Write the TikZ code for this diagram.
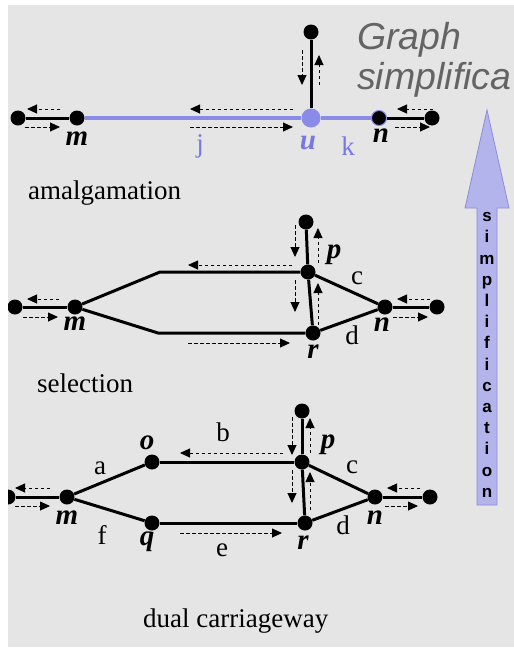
\documentclass[tikz,border=0pt]{standalone}
\usepackage{fontspec}
\setmainfont{Liberation Serif}
\setsansfont{Liberation Sans}
\usepackage{tikz}
\usetikzlibrary{calc, arrows.meta}

\definecolor{bgray}{RGB}{229,229,229}
\definecolor{ublue}{RGB}{138,138,232}
\definecolor{tblue}{RGB}{120,120,222}
\definecolor{afill}{RGB}{180,180,236}
\definecolor{aline}{RGB}{140,140,220}
\definecolor{tgray}{RGB}{100,100,100}

\tikzset{
  dot/.style={circle, fill=black, inner sep=0pt, minimum size=15pt},
  udot/.style={circle, fill=ublue, inner sep=0pt, minimum size=19pt},
  edge/.style={line width=3pt, black},
  uedge/.style={line width=4pt, ublue},
  flow/.style={line width=0.9pt, dash pattern=on 3.5pt off 2.5pt, -{Triangle[length=10pt,width=9pt]}},
  lbl/.style={inner sep=0pt, font=\fontsize{27}{27}\selectfont},
  vlbl/.style={inner sep=0pt, font=\fontsize{29}{29}\selectfont\bfseries\itshape},
  caption/.style={inner sep=0pt, anchor=west, font=\fontsize{27}{27}\selectfont}
}

\begin{document}
\begin{tikzpicture}[x=1pt, y=-1pt]
  \useasboundingbox (0,0) rectangle (514,654);
  \fill[bgray] (8,5) rectangle (514,647);
  \clip (8,5) rectangle (514,647);

  % Title
  \node[inner sep=0pt, anchor=west, text=tgray, font=\fontsize{37.5}{37.5}\selectfont\sffamily\itshape] (title1) at (357,40) {Graph};
  \node[inner sep=0pt, anchor=west, text=tgray, font=\fontsize{37.5}{37.5}\selectfont\sffamily\itshape] (title2) at (357,80) {simplifica};

  % Simplification arrow
  \draw[fill=afill, draw=aline, line width=0.8pt] (477,505) -- (477,208) -- (465,208) -- (487,110)
    -- (509,208) -- (497,208) -- (497,505) -- cycle;
  \node[inner sep=0pt, align=center, font=\fontsize{17}{21.2}\selectfont\sffamily\bfseries] (simp) at (487,355)
    {s\\i\\m\\p\\l\\i\\f\\i\\c\\a\\t\\i\\o\\n};

  % Amalgamation
  \node[dot] (a1) at (18,118) {};
  \node[dot] (m1) at (77,118) {};
  \node[udot] (u1) at (311,118) {};
  \node[dot, draw=ublue, line width=1pt] (n1) at (379,118) {};
  \node[dot] (b1) at (432,118) {};
  \node[dot] (t1) at (311,32) {};
  \draw[edge] (a1) -- (m1);
  \draw[uedge] (m1) -- (u1);
  \draw[uedge] (u1) -- (n1);
  \draw[edge] (n1) -- (b1);
  \draw[edge] (t1) -- (u1);
  \draw[flow] ($(m1)+(-17,-9)$) -- ($(a1)+(9,-9)$);
  \draw[flow] ($(a1)+(7,9)$) -- ($(m1)+(-17,9)$);
  \draw[flow] ($(u1)+(-18,-9)$) -- ($(u1)+(-121,-9)$);
  \draw[flow] ($(u1)+(-121,9)$) -- ($(u1)+(-18,9)$);
  \draw[flow] ($(b1)+(1,-9)$) -- ($(n1)+(18,-9)$);
  \draw[flow] ($(n1)+(16,9)$) -- ($(b1)+(-2,9)$);
  \draw[flow] ($(t1)+(-9,18)$) -- ($(t1)+(-9,53)$);
  \draw[flow] ($(u1)+(8,-33)$) -- ($(t1)+(8,23)$);
  \node[vlbl] (lm1) at (77,139) {m};
  \node[lbl, text=tblue] (lj) at (200,146) {j};
  \node[vlbl, text=tblue] (lu) at (308,143) {u};
  \node[lbl, text=tblue] (lk) at (348,146) {k};
  \node[vlbl] (ln1) at (381,136) {n};
  \node[caption] (cap1) at (28,193) {amalgamation};

  % Selection
  \node[dot] (a2) at (15,307) {};
  \node[dot] (m2) at (75,307) {};
  \coordinate (tl2) at (160,272);
  \coordinate (bl2) at (158,333);
  \node[dot] (p2) at (308,272) {};
  \node[dot] (r2) at (313,333) {};
  \node[dot] (n2) at (385,307) {};
  \node[dot] (b2) at (437,307) {};
  \node[dot] (t2) at (306,222) {};
  \draw[edge] (a2) -- (m2);
  \draw[edge] (m2) -- (tl2) -- (p2);
  \draw[edge] (m2) -- (bl2) -- (r2);
  \draw[edge] (t2) -- (p2);
  \draw[edge] (p2) -- (r2);
  \draw[edge] (p2) -- (n2);
  \draw[edge] (r2) -- (n2);
  \draw[edge] (n2) -- (b2);
  \draw[flow] ($(m2)+(-16,-8)$) -- ($(a2)+(12,-8)$);
  \draw[flow] ($(a2)+(8,10)$) -- ($(m2)+(-17,10)$);
  \draw[flow] ($(p2)+(-16,-7)$) -- ($(p2)+(-120,-7)$);
  \draw[flow] ($(r2)+(-125,10)$) -- ($(r2)+(-23,10)$);
  \draw[flow] ($(t2)+(-11,3)$) -- ($(t2)+(-11,35)$);
  \draw[flow] ($(p2)+(10,-9)$) -- ($(t2)+(12,6)$);
  \draw[flow] ($(p2)+(-13,8)$) -- ($(r2)+(-18,-21)$);
  \draw[flow] ($(r2)+(5,-8)$) -- ($(p2)+(10,11)$);
  \draw[flow] ($(b2)+(-7,-8)$) -- ($(n2)+(12,-8)$);
  \draw[flow] ($(n2)+(8,10)$) -- ($(b2)+(-9,10)$);
  \node[vlbl] (lp2) at (334,255) {p};
  \node[lbl] (lc2) at (357,278) {c};
  \node[lbl] (ld2) at (352,335) {d};
  \node[vlbl] (ln2) at (382,325) {n};
  \node[vlbl] (lm2) at (75,324) {m};
  \node[vlbl] (lr2) at (313,352) {r};
  \node[caption] (cap2) at (37,383) {selection};

  % Dual carriageway
  \node[dot] (a3) at (8,497) {};
  \node[dot] (m3) at (67,497) {};
  \node[dot] (o3) at (152,462) {};
  \node[dot] (q3) at (152,523) {};
  \node[dot] (p3) at (302,462) {};
  \node[dot] (r3) at (305,523) {};
  \node[dot] (n3) at (375,497) {};
  \node[dot] (b3) at (430,497) {};
  \node[dot] (t3) at (302,411) {};
  \draw[edge] (a3) -- (m3);
  \draw[edge] (m3) -- (o3);
  \draw[edge] (o3) -- (p3);
  \draw[edge] (m3) -- (q3);
  \draw[edge] (q3) -- (r3);
  \draw[edge] (t3) -- (p3);
  \draw[edge] (p3) -- (r3);
  \draw[edge] (p3) -- (n3);
  \draw[edge] (r3) -- (n3);
  \draw[edge] (n3) -- (b3);
  \draw[flow] ($(m3)+(-17,-9)$) -- ($(a3)+(7,-9)$);
  \draw[flow] ($(a3)+(7,9)$) -- ($(m3)+(-17,9)$);
  \draw[flow] ($(p3)+(-19,-9)$) -- ($(o3)+(28,-9)$);
  \draw[flow] ($(q3)+(28,10)$) -- ($(r3)+(-23,10)$);
  \draw[flow] ($(t3)+(-10,6)$) -- ($(p3)+(-10,-7)$);
  \draw[flow] ($(p3)+(8,-9)$) -- ($(t3)+(8,7)$);
  \draw[flow] ($(p3)+(-10,8)$) -- ($(r3)+(-13,-20)$);
  \draw[flow] ($(r3)+(5,-13)$) -- ($(p3)+(8,10)$);
  \draw[flow] ($(b3)+(-10,-9)$) -- ($(n3)+(12,-9)$);
  \draw[flow] ($(n3)+(10,9)$) -- ($(b3)+(-12,9)$);
  \node[lbl] (la) at (100,468) {a};
  \node[vlbl] (lo3) at (147,443) {o};
  \node[lbl] (lb) at (223,432) {b};
  \node[vlbl] (lp3) at (328,445) {p};
  \node[lbl] (lc3) at (352,467) {c};
  \node[vlbl] (lm3) at (67,518) {m};
  \node[lbl] (lf) at (102,535) {f};
  \node[vlbl] (lq3) at (147,542) {q};
  \node[lbl] (le) at (222,550) {e};
  \node[vlbl] (lr3) at (303,543) {r};
  \node[lbl] (ld3) at (343,525) {d};
  \node[vlbl] (ln3) at (375,518) {n};
  \node[caption] (cap3) at (143,621) {dual carriageway};
\end{tikzpicture}
\end{document}
